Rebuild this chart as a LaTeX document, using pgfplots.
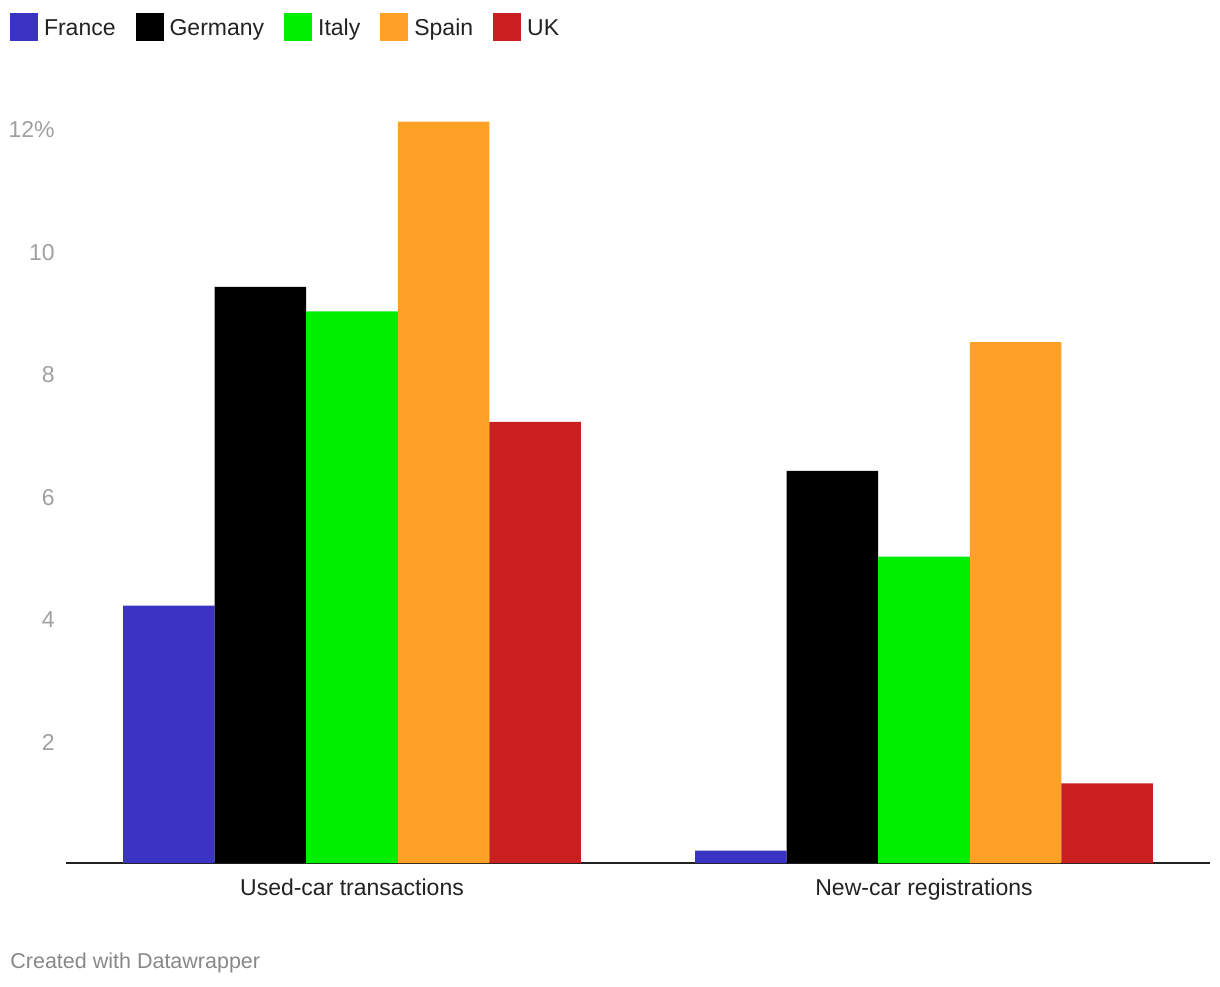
\documentclass[border=0pt]{standalone}
\usepackage{pgfplots}
\pgfplotsset{compat=1.18}
\usepackage{fontspec}
\setmainfont{Liberation Sans}
\definecolor{cfr}{HTML}{3B34C3}
\definecolor{cde}{HTML}{000000}
\definecolor{cit}{HTML}{00EE00}
\definecolor{csp}{HTML}{FFA126}
\definecolor{cuk}{HTML}{C91F1F}
\definecolor{ctxt}{HTML}{222222}
\definecolor{ctick}{HTML}{A0A0A0}
\definecolor{cfoot}{HTML}{888888}
\pgfplotsset{sq/.style={legend image code/.code={\fill[##1] (0pt,-6pt) rectangle (14pt,8pt);}}}
\begin{document}
\begin{tikzpicture}
\useasboundingbox (0,0) rectangle (610pt,493pt);
\begin{axis}[
  at={(33pt,61.5pt)}, anchor=south west,
  scale only axis, width=572pt, height=383pt,
  xmin=-0.5, xmax=1.5, ymin=0, ymax=12.5,
  axis x line=bottom, axis y line=left,
  x axis line style={-, color=ctxt, line width=1pt},
  y axis line style={draw=none},
  major tick length=0pt,
  xtick={0,1}, xticklabels={Used-car transactions, New-car registrations},
  xticklabel style={anchor=base, yshift=-16.25pt, font=\fontsize{11.5pt}{13pt}\selectfont, text=ctxt},
  ytick={2,4,6,8,10,12}, yticklabels={2,4,6,8,10,12\%},
  yticklabel style={anchor=east, inner sep=0pt, xshift=-5.5pt, yshift=-1pt, text=ctick, font=\fontsize{11.5pt}{13pt}\selectfont},
  /pgf/number format/assume math mode=true,
  legend columns=-1,
  legend style={draw=none, fill=none, inner sep=0pt, outer sep=0pt,
    at={(axis description cs:-0.04895,1.1097)}, anchor=north west,
    font=\fontsize{11.5pt}{13pt}\selectfont, text=ctxt,
    nodes={inner sep=0pt},
    /tikz/every odd column/.append style={column sep=3pt},
    /tikz/every even column/.append style={column sep=10pt}},
]
\addplot[ybar, bar width=0.16, bar shift=-0.32, fill=cfr, draw=none, sq] coordinates {(0,4.2) (1,0.2)};
\addplot[ybar, bar width=0.16, bar shift=-0.16, fill=cde, draw=none, sq] coordinates {(0,9.4) (1,6.4)};
\addplot[ybar, bar width=0.16, bar shift=0, fill=cit, draw=none, sq] coordinates {(0,9.0) (1,5.0)};
\addplot[ybar, bar width=0.16, bar shift=0.16, fill=csp, draw=none, sq] coordinates {(0,12.1) (1,8.5)};
\addplot[ybar, bar width=0.16, bar shift=0.32, fill=cuk, draw=none, sq] coordinates {(0,7.2) (1,1.3)};
\legend{France,Germany,Italy,Spain,UK}
\end{axis}
\node[anchor=base west, inner sep=0pt, text=cfoot, font=\fontsize{10.75pt}{12pt}\selectfont] at (5pt,9pt) {Created with Datawrapper};
\end{tikzpicture}
\end{document}
